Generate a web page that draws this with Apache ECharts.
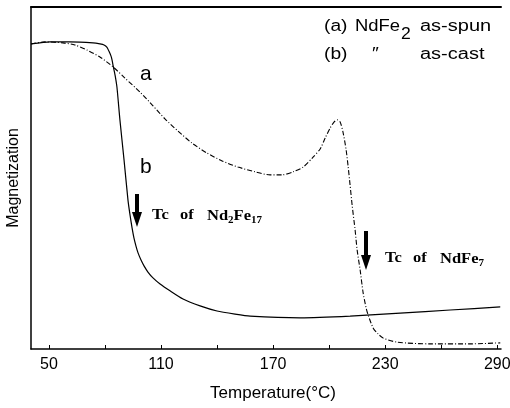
<!DOCTYPE html>
<html><head><meta charset="utf-8">
<script src="https://cdn.jsdelivr.net/npm/echarts@6/dist/echarts.min.js"></script>
<style>html,body{margin:0;padding:0;background:#fff}#c{width:510px;height:408px}</style>
</head><body><div id="c"></div>
<script>
// Temperature (°C) and magnetization (arbitrary units)
var tempA = [40.4,47.9,57.5,63.9,70.4,77.3,84.3,90.7,98.8,105.7,112.1,119.1,126.6,134.6,142.7,151.2,160.4,168.4,174.8,180.7,186.1,191.4,195.2,197.9,200.5,202.7,204.3,205.9,207.5,209.1,210.2,211.2,212.3,213.9,215.0,216.6,218.2,219.8,220.9,223.6,226.2,228.9,236.4,254.1,275.5,291.6];
var magA  = [89.2,89.8,89.5,88.9,87.4,85.4,82.5,79.2,75.1,71.1,67.3,63.7,60.2,57.3,55.0,53.2,51.8,50.9,50.9,51.8,53.2,56.1,58.5,61.7,64.6,66.4,67.0,66.4,63.2,58.2,53.2,48.0,42.1,34.8,28.9,23.1,16.4,12.0,9.9,6.1,4.4,3.2,2.0,1.5,1.5,1.8];
var tempB = [40.4,50.5,61.2,73.6,77.3,79.5,81.1,82.1,83.2,83.8,84.3,85.4,86.4,88.0,90.2,92.3,93.4,94.5,95.5,96.6,97.7,99.3,100.9,103.0,105.7,109.5,114.8,121.8,130.9,140.0,149.6,157.7,184.5,211.2,238.0,264.8,291.6];
var magB  = [89.2,89.8,89.8,89.5,89.2,88.9,88.2,87.1,85.7,84.5,83.0,80.1,76.6,67.0,55.3,43.6,39.2,35.4,32.5,30.1,28.1,26.0,24.3,22.5,20.8,19.0,17.0,14.6,12.6,11.1,10.2,9.6,9.1,9.6,10.5,11.4,12.3];
var tickLabels = [50,110,170,230,290];
var tickMarks = [50,80,110,140,170,200,230,260,290];

function zip(x,y){return x.map(function(v,i){return [v,y[i]];});}
var FONT = '"Liberation Sans",sans-serif';
var SERIF = '"Liberation Serif","DejaVu Serif",serif';

var chart = echarts.init(document.getElementById('c'));
function arrow(x, y1, y2, hw){
  var headLen = 15;
  return {type:'group', children:[
    {type:'rect', shape:{x:x-2, y:y1, width:4, height:(y2-y1)-headLen+1}, style:{fill:'#000'}},
    {type:'polygon', shape:{points:[[x-hw,y2-headLen],[x+hw,y2-headLen],[x,y2]]}, style:{fill:'#000'}}
  ]};
}
function txt(x, y, s, font, sx, rich){
  var o = {type:'text', x:x, y:y, scaleX:sx||1, style:{text:s, fill:'#000', font:font, align:'left', verticalAlign:'top'}};
  if (rich) o.style.rich = rich;
  return o;
}
var LF = '16px ' + FONT;
var TF = 'bold 15px ' + SERIF;
var subRich = {s:{fontSize:10, fontWeight:'bold', fontFamily:SERIF, padding:[7,0,0,0]}};
chart.setOption({
  animation:false,
  backgroundColor:'#fff',
  grid:{left:31, right:9, top:7, bottom:59, containLabel:false, outerBoundsMode:'none'},
  xAxis:[{
    type:'value', min:40.4, max:292,
    name:'Temperature(°C)', nameLocation:'middle', nameGap:36,
    nameTextStyle:{fontFamily:FONT, fontSize:17, color:'#000', padding:[0,0,0,14]},
    axisLine:{show:true, lineStyle:{color:'#000', width:1.5}},
    axisTick:{show:true, inside:true, length:4, customValues:tickMarks, lineStyle:{color:'#000'}},
    axisLabel:{customValues:tickLabels, fontFamily:FONT, fontSize:16, color:'#000', margin:8},
    splitLine:{show:false}
  },{
    type:'value', min:40.4, max:292, position:'top',
    axisLine:{show:true, lineStyle:{color:'#000', width:2}},
    axisTick:{show:false}, axisLabel:{show:false}, splitLine:{show:false}
  }],
  yAxis:{
    type:'value', min:0, max:100,
    name:'Magnetization', nameLocation:'middle', nameGap:9,
    nameTextStyle:{fontFamily:FONT, fontSize:16, color:'#000'},
    axisLine:{show:true, lineStyle:{color:'#000', width:1.5}},
    axisTick:{show:false}, axisLabel:{show:false}, splitLine:{show:false}
  },
  series:[
    {type:'line', name:'a', data:zip(tempA,magA), showSymbol:false, smooth:0.25,
     lineStyle:{color:'#000', width:1.1, type:[5,2,1,2]}},
    {type:'line', name:'b', data:zip(tempB,magB), showSymbol:false, smooth:0.2,
     lineStyle:{color:'#000', width:1.2}}
  ],
  graphic:[
    txt(324, 19, '(a)', LF, 1.2), txt(355, 19, 'NdFe', LF, 1.15), txt(401, 27, '2', LF, 1.1), txt(420, 19, 'as-spun', LF, 1.25),
    txt(324, 47, '(b)', LF, 1.2), txt(372, 47, '\u2033', LF, 1.2), txt(420, 47, 'as-cast', LF, 1.25),
    txt(140, 64, 'a', '21px ' + FONT),
    txt(140, 157, 'b', '21px ' + FONT),
    arrow(137, 194, 227, 5),
    arrow(366, 231, 270, 5),
    txt(152, 208, 'Tc', TF, 1.1), txt(180, 208, 'of', TF, 1.1),
    txt(207, 208, 'Nd{s|2}Fe{s|17}', TF, 1.1, subRich),
    txt(385, 251, 'Tc', TF, 1.1), txt(413, 251, 'of', TF, 1.1),
    txt(440, 251, 'NdFe{s|7}', TF, 1.1, subRich)
  ]
});
</script></body></html>
